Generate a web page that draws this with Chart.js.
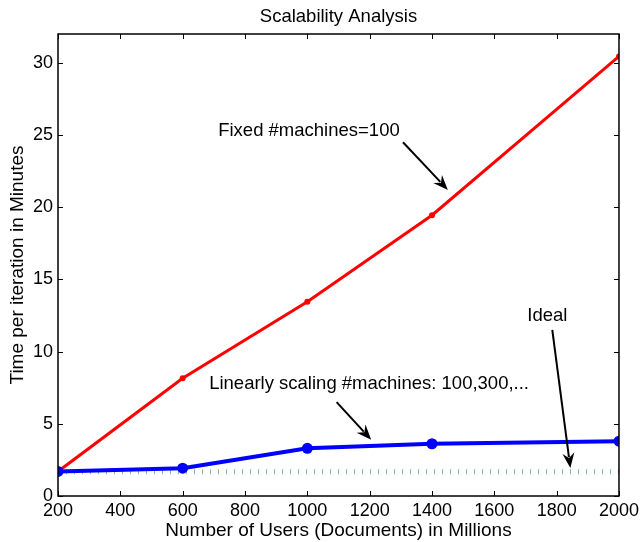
<!DOCTYPE html>
<html>
<head>
<meta charset="utf-8">
<script src="https://cdn.jsdelivr.net/npm/chart.js@4/dist/chart.umd.min.js"></script>
<style>
  html, body { margin: 0; padding: 0; background: #fff; }
  #wrap { width: 643px; height: 542px; }
</style>
</head>
<body>
<div id="wrap"><canvas id="chart" width="643" height="542"></canvas></div>
<script>
// ===== DATA =====
const users = [200, 600, 1000, 1400, 2000];
const fixedTime = [1.7, 8.15, 13.45, 19.45, 30.45];
const scalingTime = [1.7, 1.93, 3.3, 3.62, 3.8];
const idealUsers = [200, 2000];
const idealTime = [1.68, 1.68];

const xTicks = [200, 400, 600, 800, 1000, 1200, 1400, 1600, 1800, 2000];
const yTicks = [0, 5, 10, 15, 20, 25, 30];

// annotations (data coords)
const noteTexts = ["Fixed #machines=100", "Linearly scaling #machines: 100,300,...", "Ideal"];
const noteX = [714, 685, 1706];
const noteY = [25.3, 7.76, 12.5];
const arrowFromX = [1307, 1094, 1786];
const arrowFromY = [24.5, 6.5, 11.5];
const arrowToX = [1451, 1205, 1844];
const arrowToY = [21.2, 3.9, 1.94];

const FONT = "'Liberation Sans', Arial, Helvetica, sans-serif";

function pts(xs, ys) {
  return xs.map((x, i) => ({ x: x, y: ys[i] }));
}

// ===== PLUGIN: box, inward ticks, annotations =====
const matlabBox = {
  id: "matlabBox",
  afterDraw(chart) {
    const ctx = chart.ctx;
    const a = chart.chartArea;
    const xs = chart.scales.x, ys = chart.scales.y;
    ctx.save();
    ctx.strokeStyle = "#000";
    ctx.lineWidth = 1;
    ctx.beginPath();
    xTicks.forEach(v => {
      const px = Math.round(xs.getPixelForValue(v)) + 0.5;
      ctx.moveTo(px, a.bottom); ctx.lineTo(px, a.bottom - 5);
      ctx.moveTo(px, a.top); ctx.lineTo(px, a.top + 5);
    });
    yTicks.forEach(v => {
      const py = Math.round(ys.getPixelForValue(v)) + 0.5;
      ctx.moveTo(a.left, py); ctx.lineTo(a.left + 5, py);
      ctx.moveTo(a.right, py); ctx.lineTo(a.right - 5, py);
    });
    ctx.stroke();
    ctx.lineWidth = 1.5;
    ctx.strokeRect(a.left, a.top, a.right - a.left, a.bottom - a.top);

    // title
    ctx.fillStyle = "#000";
    ctx.font = "18.5px " + FONT;
    ctx.textAlign = "center";
    ctx.textBaseline = "middle";
    ctx.fillText("Scalability Analysis", (a.left + a.right) / 2, 17);

    // text notes
    ctx.textAlign = "left";
    ctx.font = "18.5px " + FONT;
    noteTexts.forEach((t, i) => {
      ctx.fillText(t, xs.getPixelForValue(noteX[i]), ys.getPixelForValue(noteY[i]));
    });

    // arrows
    ctx.lineWidth = 2;
    for (let i = 0; i < arrowFromX.length; i++) {
      const x0 = xs.getPixelForValue(arrowFromX[i]), y0 = ys.getPixelForValue(arrowFromY[i]);
      const x1 = xs.getPixelForValue(arrowToX[i]), y1 = ys.getPixelForValue(arrowToY[i]);
      const ang = Math.atan2(y1 - y0, x1 - x0);
      const len = 15, wid = 6;
      const bx = x1 - len * Math.cos(ang), by = y1 - len * Math.sin(ang);
      ctx.beginPath();
      ctx.moveTo(x0, y0);
      ctx.lineTo(bx + 4 * Math.cos(ang), by + 4 * Math.sin(ang));
      ctx.stroke();
      ctx.beginPath();
      ctx.moveTo(x1, y1);
      ctx.lineTo(bx + wid * Math.sin(ang), by - wid * Math.cos(ang));
      ctx.lineTo(bx + 5 * Math.cos(ang), by + 5 * Math.sin(ang));
      ctx.lineTo(bx - wid * Math.sin(ang), by + wid * Math.cos(ang));
      ctx.closePath();
      ctx.fill();
    }
    ctx.restore();
  }
};

// ===== CHART =====
new Chart(document.getElementById("chart"), {
  type: "line",
  data: {
    datasets: [
      {
        label: "Linearly scaling",
        data: pts(users, scalingTime),
        borderColor: "#0000ff",
        backgroundColor: "#0000ff",
        borderWidth: 4,
        pointRadius: 5.5,
        pointBorderWidth: 0,
        tension: 0,
        order: 0
      },
      {
        label: "Ideal",
        data: pts(idealUsers, idealTime),
        borderColor: "rgba(40,140,95,0.6)",
        borderWidth: 5,
        borderDash: [1, 7],
        borderCapStyle: "butt",
        pointRadius: 0,
        tension: 0,
        order: 1
      },
      {
        label: "Fixed",
        data: pts(users, fixedTime),
        borderColor: "#ff0000",
        backgroundColor: "#ff0000",
        borderWidth: 3,
        pointRadius: 3,
        pointBorderWidth: 0,
        tension: 0,
        order: 2
      }
    ]
  },
  options: {
    responsive: false,
    animation: false,
    layout: { padding: { top: 34, right: 21, left: 0, bottom: 0 } },
    plugins: {
      legend: { display: false },
      tooltip: { enabled: false }
    },
    scales: {
      x: {
        type: "linear",
        min: 200,
        max: 2000,
        afterBuildTicks: s => { s.ticks = xTicks.map(v => ({ value: v })); },
        afterFit: s => { s.height = 46; },
        grid: { display: false, drawTicks: false },
        border: { display: false },
        ticks: {
          color: "#000",
          font: { family: FONT, size: 18 },
          padding: 4,
          maxRotation: 0,
          callback: v => String(v)
        },
        title: {
          display: true,
          text: "Number of Users (Documents) in Millions",
          color: "#000",
          font: { family: FONT, size: 19 },
          padding: { top: 0, bottom: 0 }
        }
      },
      y: {
        min: 0,
        max: 32,
        afterBuildTicks: s => { s.ticks = yTicks.map(v => ({ value: v })); },
        afterFit: s => { s.width = 58; },
        grid: { display: false, drawTicks: false },
        border: { display: false },
        ticks: { color: "#000", font: { family: FONT, size: 18 }, padding: 5, callback: v => String(v) },
        title: {
          display: true,
          text: "Time per iteration in Minutes",
          color: "#000",
          font: { family: FONT, size: 19 },
          padding: { top: 6, bottom: 0 }
        }
      }
    }
  },
  plugins: [matlabBox]
});
</script>
</body>
</html>
